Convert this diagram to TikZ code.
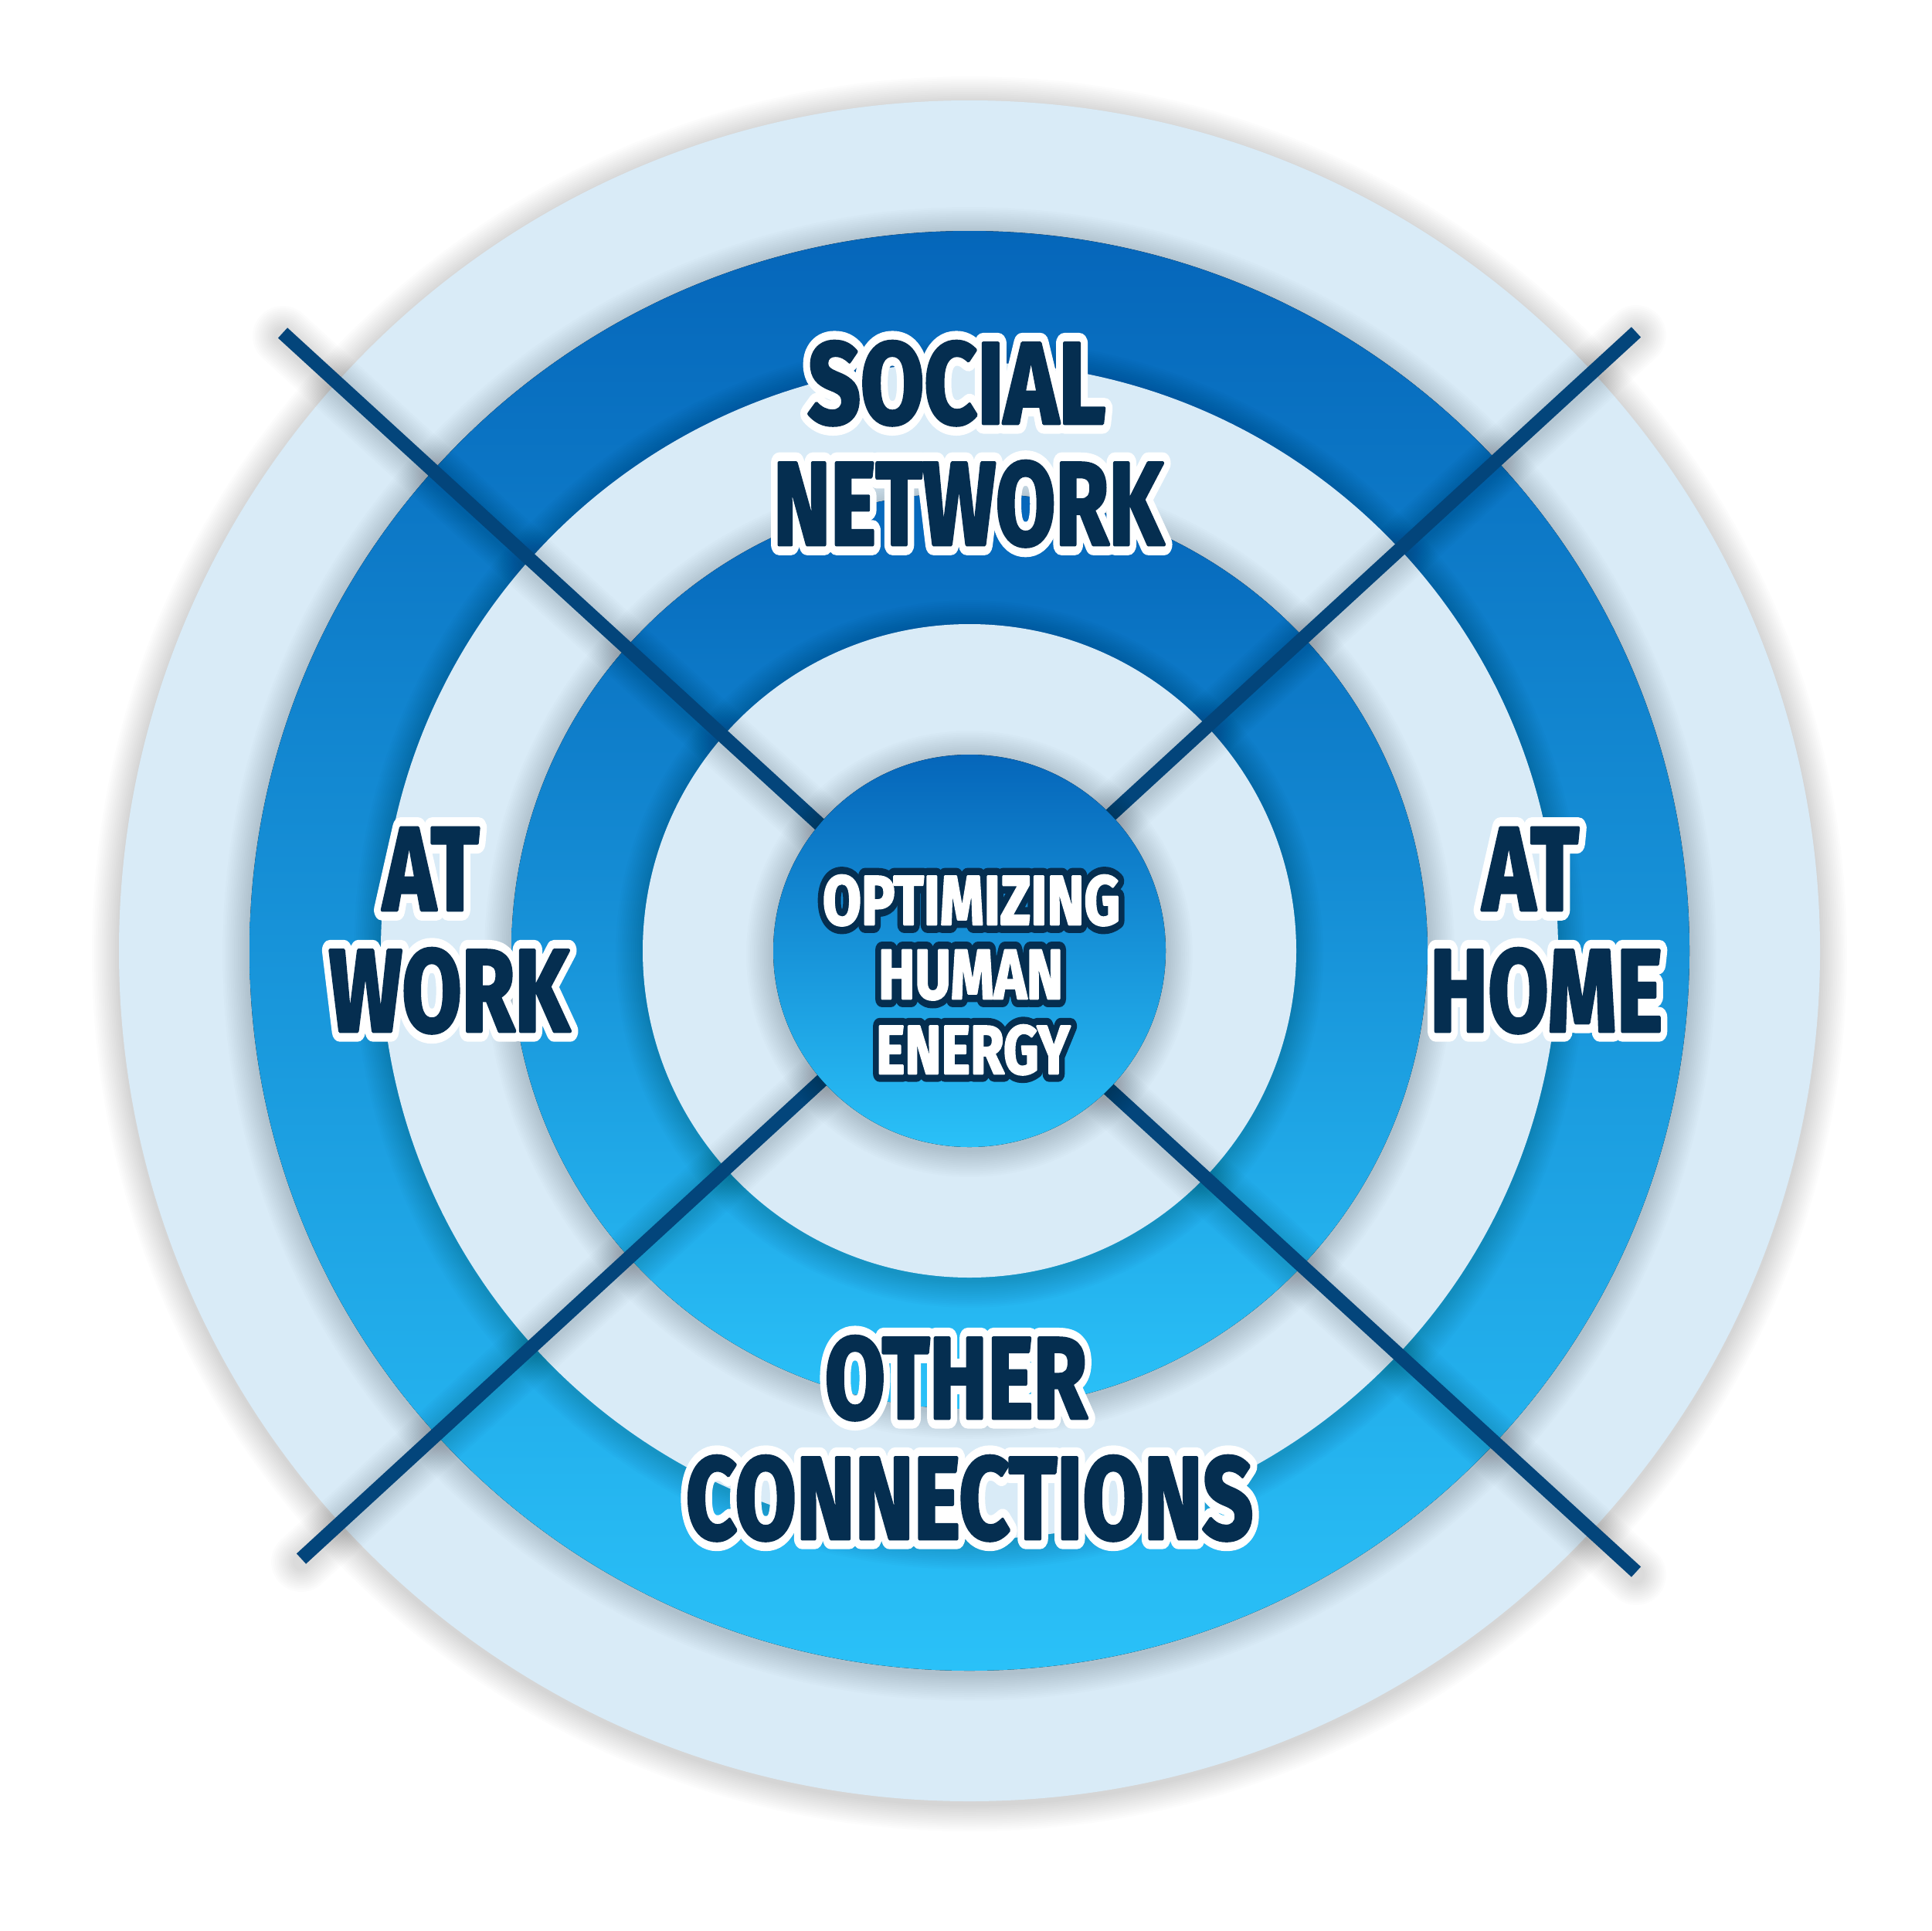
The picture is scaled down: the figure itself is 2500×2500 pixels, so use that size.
\documentclass[tikz,border=0pt]{standalone}
\usepackage{fontspec}
\newfontfamily\lblfont{Fira Sans}[BoldFeatures={FakeBold=3}]
\newfontfamily\outfont{Fira Sans}[BoldFeatures={FakeBold=18}]
\newfontfamily\outfontc{Fira Sans}[BoldFeatures={FakeBold=24}]
\definecolor{lightc}{HTML}{D9EBF7}
\definecolor{dtop}{HTML}{0566BA}
\definecolor{dbot}{HTML}{2AC1F8}
\definecolor{linec}{HTML}{03457B}
\definecolor{navy}{HTML}{052E50}
\tikzset{
  lightdisk/.style={fill=lightc},
  darkdisk/.style={top color=dtop, bottom color=dbot, draw=none},
  shadowdisk/.style={fill=black, opacity=0.013},
  divider/.style={draw=linec, line width=18pt, line cap=butt},
  dividershadow/.style={draw=black, opacity=0.012, line cap=round},
  lbl/.style={inner sep=0pt, outer sep=0pt, anchor=base},
}
% name, x, y, width, height, text, fill colour, outline colour, outline font
\newcommand\olabel[9]{%
  \node[lbl,text=#8] (#1o) at (#2,#3) {\resizebox{#4pt}{#5pt}{#9\bfseries #6}};
  \node[lbl,text=#7] (#1) at (#2,#3) {\resizebox{#4pt}{#5pt}{\lblfont\bfseries #6}};}
\newcommand\dshadow[1]{%
  \foreach \k in {1,...,14}{\fill[shadowdisk] ([yshift=-4pt]O) circle[radius={(#1+2.5*\k)*1pt}];}}
\begin{document}
\begin{tikzpicture}[x=1pt,y=-1pt,line join=round]
\useasboundingbox (0,0) rectangle (2500,2500);
\fill[white] (0,0) rectangle (2500,2500);
\coordinate (O) at (1255,1231);
% disks
\dshadow{1101}
\fill[lightdisk] (O) circle[radius=1101pt];
\dshadow{932}
\fill[darkdisk] (O) circle[radius=932pt];
\dshadow{762}
\fill[lightdisk] (O) circle[radius=762pt];
\dshadow{593}
\fill[darkdisk] (O) circle[radius=593pt];
\dshadow{423}
\fill[lightdisk] (O) circle[radius=423pt];
% dividers
\coordinate (l1a) at (366,431);
\coordinate (l1b) at (2118,2035);
\coordinate (l2a) at (2118,430);
\coordinate (l2b) at (390,2018);
\foreach \k in {1,...,12}{%
  \draw[dividershadow, line width={(18+5*\k)*1pt}] ([yshift=-4pt]l1a) -- ([yshift=-4pt]l1b);
  \draw[dividershadow, line width={(18+5*\k)*1pt}] ([yshift=-4pt]l2a) -- ([yshift=-4pt]l2b);}
\draw[divider] (l1a) -- (l1b);
\draw[divider] (l2a) -- (l2b);
% centre
\dshadow{254}
\fill[darkdisk] (O) circle[radius=254pt];
% labels
\olabel{social}{1238.5}{548}{385}{106}{SOCIAL}{navy}{white}{\outfont}
\olabel{network}{1253.5}{705}{505}{108}{NETWORK}{navy}{white}{\outfont}
\olabel{atw}{558}{1178}{124}{106}{AT}{navy}{white}{\outfont}
\olabel{work}{581.5}{1335}{311}{107}{WORK}{navy}{white}{\outfont}
\olabel{ath}{1981.5}{1178}{124}{106}{AT}{navy}{white}{\outfont}
\olabel{home}{2001.5}{1335}{301}{107}{HOME}{navy}{white}{\outfont}
\olabel{other}{1237.5}{1836}{339}{106}{OTHER}{navy}{white}{\outfont}
\olabel{conn}{1255}{1992}{734}{107}{CONNECTIONS}{navy}{white}{\outfont}
\olabel{optim}{1257.5}{1197}{385}{64}{OPTIMIZING}{white}{navy}{\outfontc}
\olabel{human}{1256.5}{1293}{239}{63}{HUMAN}{white}{navy}{\outfontc}
\olabel{energy}{1259.5}{1390}{251}{63}{ENERGY}{white}{navy}{\outfontc}
\end{tikzpicture}
\end{document}
